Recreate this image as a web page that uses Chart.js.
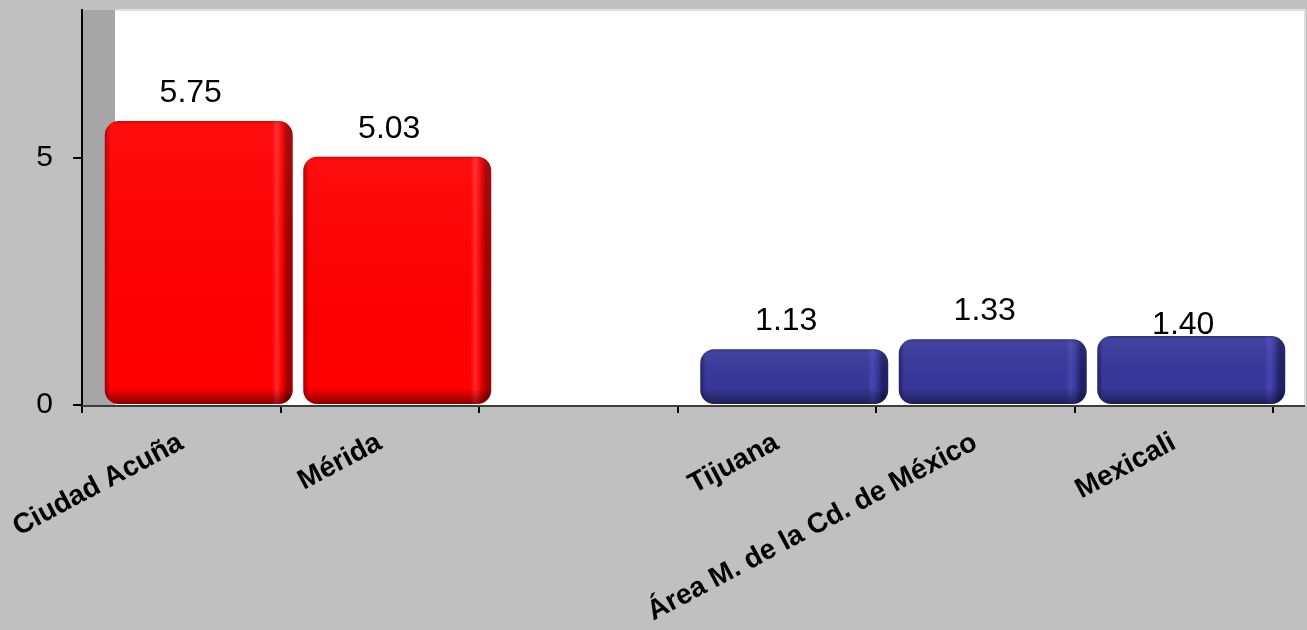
<!DOCTYPE html>
<html>
<head>
<meta charset="utf-8">
<script src="https://cdn.jsdelivr.net/npm/chart.js@4.4.1/dist/chart.umd.min.js"></script>
<style>
  html, body { margin: 0; padding: 0; background: #c0c0c0; }
  #wrap { width: 1307px; height: 630px; }
</style>
</head>
<body>
<div id="wrap"><canvas id="chart" width="1307" height="630"></canvas></div>
<script>
// donnees
const categories = ['Ciudad Acuña', 'Mérida', '', 'Tijuana', 'Área M. de la Cd. de México', 'Mexicali']
const values = [5.75, 5.03, null, 1.13, 1.33, 1.40]
const groups = ['alto', 'alto', null, 'bajo', 'bajo', 'bajo']
const yTicks = [0, 5]

const palette = {
      alto: { main: '#ff0000', edge: '#a00000', light: '#ff2a2a' },
      bajo: { main: '#38389b', edge: '#202068', light: '#4646b0' }
}
const depth = 33       // profondeur de l'effet 3D
const shiftPx = 17.5   // decalage des barres vers la droite

function barFill(ctx) {
      const g = groups[ctx.dataIndex]
      if (!g) return 'rgba(0,0,0,0)'
      const p = palette[g]
      const chart = ctx.chart
      const xs = chart.scales.xb
      if (!xs || !chart.chartArea) return p.main
      const cx = xs.getPixelForValue(ctx.dataIndex)
      const w = xs.getPixelForValue(1) - xs.getPixelForValue(0)
      const half = w * 0.947 / 2
      const grad = chart.ctx.createLinearGradient(cx - half, 0, cx + half, 0)
      grad.addColorStop(0, p.edge)
      grad.addColorStop(0.03, p.main)
      grad.addColorStop(0.89, p.main)
      grad.addColorStop(0.915, p.light)
      grad.addColorStop(0.94, p.main)
      grad.addColorStop(0.97, p.edge)
      grad.addColorStop(1, p.edge)
      return grad
}

const decor = {
      id: 'decor',
      beforeDraw(chart) {
            const c = chart.ctx, a = chart.chartArea
            c.save()
            c.fillStyle = '#c0c0c0'
            c.fillRect(0, 0, chart.width, chart.height)
            c.fillStyle = '#ffffff'
            c.fillRect(a.left + depth, a.top, a.right + 32 - a.left - depth, a.bottom - a.top)
            c.fillStyle = '#a6a6a6'
            c.fillRect(a.left, a.top, depth, a.bottom - a.top)
            c.strokeStyle = '#dedede'
            c.lineWidth = 2
            c.beginPath()
            c.moveTo(a.left + depth, a.top)
            c.lineTo(a.right + 32, a.top)
            c.lineTo(a.right + 32, a.bottom)
            c.stroke()
            c.restore()
      },
      beforeDatasetsDraw(chart) {
            const c = chart.ctx, a = chart.chartArea
            c.save()
            c.strokeStyle = '#3c3c3c'
            c.lineWidth = 2
            c.beginPath()
            c.moveTo(a.left, a.bottom + 1)
            c.lineTo(a.right + 32, a.bottom + 1)
            c.stroke()
            c.restore()
      },
      afterDatasetsDraw(chart) {
            const c = chart.ctx
            const meta = chart.getDatasetMeta(0)
            c.save()
            meta.data.forEach((bar, i) => {
                  if (values[i] == null) return
                  const p = bar.getProps(['x', 'y', 'base', 'width'], true)
                  const left = p.x - p.width / 2
                  const h = p.base - p.y
                  // ombrage vertical
                  const grad = c.createLinearGradient(0, p.y, 0, p.base)
                  grad.addColorStop(0, 'rgba(0,0,0,0.15)')
                  grad.addColorStop(Math.min(0.08, 5 / h), 'rgba(255,255,255,0.05)')
                  grad.addColorStop(Math.max(0.5, 1 - 16 / h), 'rgba(0,0,0,0)')
                  grad.addColorStop(1, 'rgba(0,0,0,0.45)')
                  c.fillStyle = grad
                  c.beginPath()
                  c.roundRect(left, p.y, p.width, h, 14)
                  c.fill()
                  // etiquette de valeur
                  c.fillStyle = '#000000'
                  c.font = '32px "Liberation Sans", Arial, sans-serif'
                  c.textAlign = 'center'
                  c.textBaseline = 'alphabetic'
                  const lift = i === 5 ? 2 : 19
                  c.fillText(values[i].toFixed(2), p.x - 8, p.y - lift)
            })
            c.restore()
      }
}

const barData = values.map((v, i) => ({ x: i, y: v }))

new Chart(document.getElementById('chart'), {
      type: 'bar',
      data: {
            labels: categories,
            datasets: [{
                  data: barData,
                  xAxisID: 'xb',
                  backgroundColor: barFill,
                  borderWidth: 0,
                  borderRadius: 14,
                  borderSkipped: false,
                  barPercentage: 0.947,
                  categoryPercentage: 1,
                  clip: false
            }]
      },
      options: {
            responsive: false,
            animation: false,
            events: [],
            layout: { padding: { top: 10, right: 34, bottom: 0, left: 0 } },
            plugins: { legend: { display: false }, tooltip: { enabled: false } },
            scales: {
                  x: {
                        type: 'category',
                        position: 'bottom',
                        offset: true,
                        grid: { offset: true, drawOnChartArea: false, tickLength: 8, color: '#000000', lineWidth: 2 },
                        border: { display: false },
                        ticks: {
                              color: '#000000',
                              font: { family: '"Liberation Sans", Arial, sans-serif', size: 28, weight: 'bold' },
                              minRotation: 28,
                              maxRotation: 28,
                              autoSkip: false,
                              padding: 13
                        },
                        afterFit(s) { s.height = 225; s.paddingLeft = 0; s.paddingRight = 0 }
                  },
                  xb: {
                        type: 'linear',
                        display: false,
                        offset: false,
                        min: -0.5 - shiftPx / 198.5,
                        max: 5.5 - shiftPx / 198.5
                  },
                  y: {
                        min: 0,
                        max: 8,
                        grid: { drawOnChartArea: false, tickLength: 9, color: '#000000', lineWidth: 2 },
                        border: { display: true, color: '#000000', width: 2 },
                        ticks: {
                              color: '#000000',
                              font: { family: '"Liberation Sans", Arial, sans-serif', size: 30 },
                              padding: 20
                        },
                        afterBuildTicks(s) { s.ticks = yTicks.map(v => ({ value: v })) },
                        afterFit(s) { s.width = 82; s.paddingTop = 0; s.paddingBottom = 0 }
                  }
            }
      },
      plugins: [decor]
})
</script>
</body>
</html>
